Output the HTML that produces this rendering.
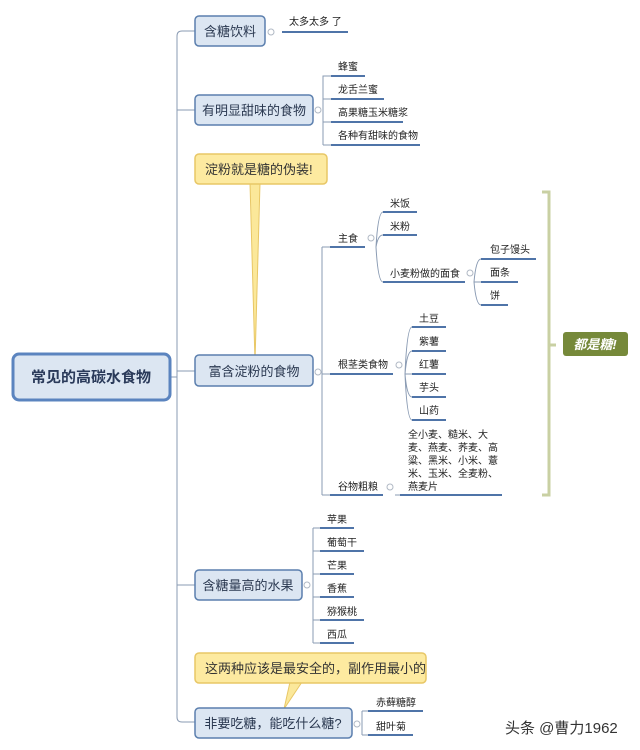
<!DOCTYPE html>
<html><head><meta charset="utf-8"><style>
html,body{margin:0;padding:0;background:#fff;}
svg{display:block;}
text{font-family:"Liberation Sans","Noto Sans CJK SC",sans-serif;fill:#222;}
.b{fill:#dce6f2;stroke:#5b7fae;stroke-width:1.5;}
.t{font-size:13px;fill:#2a3850;}
.s{font-size:10px;}
.u{stroke:#4f74a8;stroke-width:2;fill:none;}
.l{stroke:#8a9bb3;stroke-width:1;fill:none;}
.c{fill:#fff;stroke:#b0b8c4;stroke-width:1;}
</style></head><body>
<svg width="640" height="750" viewBox="0 0 640 750">
<path class="l" d="M170 377 H177 M177 36 Q177 31 182 31 H195 M177 36 V717 Q177 722 182 722 H195 M177 110 H195 M177 371 H195 M177 585 H195"/>
<rect x="13" y="354" width="157" height="46" rx="6" fill="#dce6f2" stroke="#5b84bf" stroke-width="3"/>
<text x="91" y="382" text-anchor="middle" font-size="15" font-weight="bold" style="fill:#2a3a5a">常见的高碳水食物</text>

<rect class="b" x="195" y="16" width="70" height="30" rx="4"/>
<text class="t" x="230" y="36" text-anchor="middle">含糖饮料</text>
<circle class="c" cx="271" cy="32" r="3"/>
<path class="u" d="M282 32 H348"/>
<text class="s" x="289" y="25">太多太多 了</text>

<rect class="b" x="195" y="95" width="118" height="30" rx="4"/>
<text class="t" x="254" y="115" text-anchor="middle">有明显甜味的食物</text>
<circle class="c" cx="318" cy="110" r="3"/>
<path class="l" d="M323 110 V145 M323 110 V76 H331 M323 99 H331 M323 122 H331 M323 145 H331"/>
<path class="u" d="M331 76 H365 M331 99 H384 M331 122 H403 M331 145 H420"/>
<text class="s" x="338" y="70">蜂蜜</text>
<text class="s" x="338" y="93">龙舌兰蜜</text>
<text class="s" x="338" y="116">高果糖玉米糖浆</text>
<text class="s" x="338" y="139">各种有甜味的食物</text>

<path d="M250 183 L255 362 L260 183 Z" fill="#fbe89a" stroke="#e8c766" stroke-width="1"/>
<rect x="195" y="154" width="132" height="30" rx="4" fill="#fdeaa0" stroke="#e8c766" stroke-width="1.5"/>
<text x="205" y="174" font-size="13" style="fill:#333">淀粉就是糖的伪装!</text>

<rect class="b" x="195" y="355" width="118" height="31" rx="4"/>
<text class="t" x="254" y="376" text-anchor="middle">富含淀粉的食物</text>
<circle class="c" cx="318" cy="372" r="3"/>
<path class="l" d="M322 247 V495 M322 247 H330 M322 374 H330 M322 495 H330"/>
<path class="u" d="M330 247 H365 M330 374 H393 M330 495 H383"/>
<text class="s" x="338" y="242">主食</text>
<text class="s" x="338" y="368">根茎类食物</text>
<text class="s" x="338" y="490">谷物粗粮</text>
<circle class="c" cx="371" cy="238" r="3"/>
<circle class="c" cx="399" cy="365" r="3"/>
<circle class="c" cx="390" cy="487" r="3"/>
<path class="l" d="M376 247 Q378 212 383 212 M376 247 Q378 235 383 235 M376 247 Q378 282 383 282"/>
<path class="u" d="M383 212 H417 M383 235 H417 M383 282 H465"/>
<text class="s" x="390" y="207">米饭</text>
<text class="s" x="390" y="230">米粉</text>
<text class="s" x="390" y="277">小麦粉做的面食</text>
<circle class="c" cx="470" cy="273" r="3"/>
<path class="l" d="M474 282 Q476 259 481 259 M474 282 H481 M474 282 Q476 305 481 305"/>
<path class="u" d="M481 259 H536 M481 282 H518 M481 305 H508"/>
<text class="s" x="490" y="253">包子馒头</text>
<text class="s" x="490" y="276">面条</text>
<text class="s" x="490" y="299">饼</text>
<path class="l" d="M405 374 Q407 327 412 327 M405 374 Q407 351 412 351 M405 374 H412 M405 374 Q407 397 412 397 M405 374 Q407 420 412 420"/>
<path class="u" d="M412 327 H446 M412 351 H446 M412 374 H446 M412 397 H446 M412 420 H446"/>
<text class="s" x="419" y="322">土豆</text>
<text class="s" x="419" y="345">紫薯</text>
<text class="s" x="419" y="368">红薯</text>
<text class="s" x="419" y="391">芋头</text>
<text class="s" x="419" y="414">山药</text>
<path class="l" d="M395 495 H400"/>
<path class="u" d="M400 495 H502"/>
<text class="s" x="408" y="438">全小麦、糙米、大</text>
<text class="s" x="408" y="451">麦、燕麦、荞麦、高</text>
<text class="s" x="408" y="464">粱、黑米、小米、薏</text>
<text class="s" x="408" y="477">米、玉米、全麦粉、</text>
<text class="s" x="408" y="490">燕麦片</text>
<path d="M542 192 H549 V495 H542 M549 345 H556" fill="none" stroke="#c9d0a3" stroke-width="3"/>
<rect x="563" y="332" width="65" height="24" rx="3" fill="#76893a"/>
<text x="595" y="349" text-anchor="middle" font-size="13" font-weight="bold" font-style="italic" style="fill:#fff">都是糖!</text>

<rect class="b" x="195" y="570" width="107" height="30" rx="4"/>
<text class="t" x="248" y="590" text-anchor="middle">含糖量高的水果</text>
<circle class="c" cx="307" cy="585" r="3"/>
<path class="l" d="M313 528 V643 M313 528 H320 M313 551 H320 M313 574 H320 M313 597 H320 M313 620 H320 M313 643 H320"/>
<path class="u" d="M320 528 H354 M320 551 H364 M320 574 H354 M320 597 H354 M320 620 H364 M320 643 H354"/>
<text class="s" x="327" y="523">苹果</text>
<text class="s" x="327" y="546">葡萄干</text>
<text class="s" x="327" y="569">芒果</text>
<text class="s" x="327" y="592">香蕉</text>
<text class="s" x="327" y="615">猕猴桃</text>
<text class="s" x="327" y="638">西瓜</text>

<path d="M290 682 L284 709 L302 682 Z" fill="#fbe89a" stroke="#e8c766" stroke-width="1"/>
<rect x="195" y="653" width="231" height="30" rx="4" fill="#fdeaa0" stroke="#e8c766" stroke-width="1.5"/>
<text x="205" y="673" font-size="13" style="fill:#333">这两种应该是最安全的，副作用最小的</text>

<rect class="b" x="195" y="708" width="157" height="30" rx="4"/>
<text class="t" x="273" y="728" text-anchor="middle">非要吃糖，能吃什么糖?</text>
<circle class="c" cx="357" cy="724" r="3"/>
<path class="l" d="M362 711 V735 M362 711 H368 M362 735 H368"/>
<path class="u" d="M368 711 H423 M368 735 H413"/>
<text class="s" x="376" y="706">赤藓糖醇</text>
<text class="s" x="376" y="730">甜叶菊</text>

<text x="505" y="733" font-size="15" style="fill:#333">头条 @曹力1962</text>
</svg>
</body></html>
